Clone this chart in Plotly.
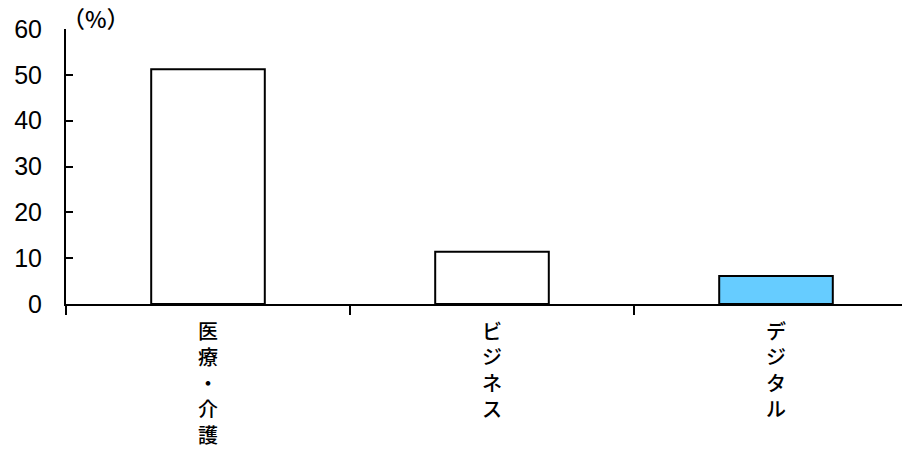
import plotly.graph_objects as go

categories = ["医療・介護", "ビジネス", "デジタル"]
values = [51.2, 11.4, 6.1]
bar_colors = ["#FFFFFF", "#FFFFFF", "#66CCFF"]
y_ticks = [0, 10, 20, 30, 40, 50, 60]
unit_label = "（%）"

xs = list(range(len(categories)))

fig = go.Figure()
fig.add_trace(go.Bar(
    x=xs, y=values, width=0.4,
    marker=dict(color=bar_colors, line=dict(color="black", width=2)),
    hoverinfo="skip",
))

cjk_font = "Noto Sans CJK JP, Noto Sans, sans-serif"
num_font = "Liberation Sans, Arial, sans-serif"

annotations = []
for i, c in enumerate(categories):
    annotations.append(dict(
        x=i, y=0, xref="x", yref="paper", yanchor="top", xanchor="center",
        yshift=-10, showarrow=False,
        text="<br>".join(list(c)),
        font=dict(size=20, color="black", family=cjk_font, weight=500),
    ))
annotations.append(dict(
    x=0, y=1, xref="paper", yref="paper", xanchor="left", yanchor="middle",
    xshift=-6, yshift=11, showarrow=False, text=unit_label,
    font=dict(size=23, color="black", family=cjk_font, weight=500),
))

fig.update_layout(
    width=910, height=453,
    margin=dict(l=58, r=0, t=21, b=157),
    plot_bgcolor="white", paper_bgcolor="white",
    showlegend=False,
    annotations=annotations,
    xaxis=dict(
        range=[-0.5, 2.5], tickmode="array",
        tickvals=[-0.5, 0.5, 1.5, 2.5], ticktext=["", "", "", ""],
        ticks="outside", ticklen=9, tickwidth=2, tickcolor="black",
        showline=True, linecolor="black", linewidth=2,
        showgrid=False, zeroline=False, automargin=False,
    ),
    yaxis=dict(
        range=[0, 60], tickmode="array", tickvals=y_ticks,
        ticks="inside", ticklen=7, tickwidth=2, tickcolor="black",
        showline=True, linecolor="black", linewidth=2,
        showgrid=False, zeroline=False, automargin=False,
        ticklabelstandoff=17,
        tickfont=dict(size=25, color="black", family=num_font),
    ),
)

fig.write_html("out.html")
